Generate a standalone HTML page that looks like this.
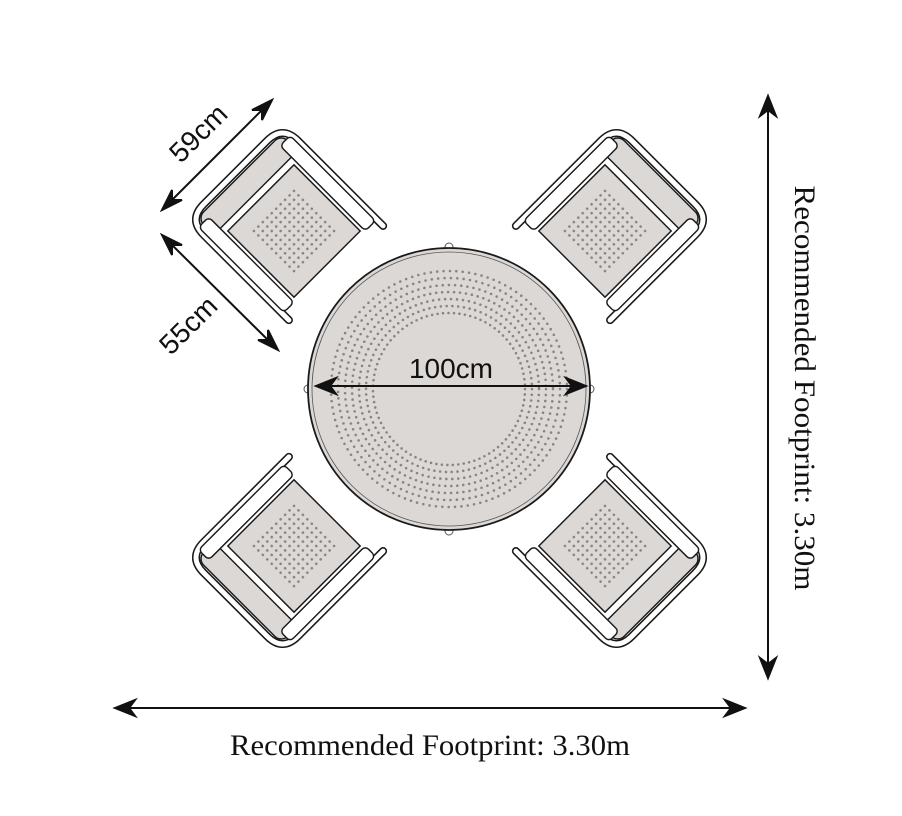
<!DOCTYPE html>
<html><head><meta charset="utf-8"><style>
html,body{margin:0;padding:0;background:#fff}
svg{display:block}
</style></head><body>
<svg width="902" height="816" viewBox="0 0 902 816" xmlns="http://www.w3.org/2000/svg">
<defs>
<pattern id="dots" width="7" height="7" patternUnits="userSpaceOnUse">
<circle cx="3.5" cy="3.5" r="1.5" fill="#8a8584"/>
</pattern>
<g id="chair" stroke="#1a1a1a" stroke-width="1.6" fill="#dcd8d6">
<path d="M-74,66 L-74,-68 Q-74,-92 -50,-92 L50,-92 Q74,-92 74,-68 L74,66" fill="none" stroke="#1a1a1a" stroke-width="9" stroke-linecap="round"/>
<path d="M-74,66 L-74,-68 Q-74,-92 -50,-92 L50,-92 Q74,-92 74,-68 L74,66" fill="none" stroke="#fff" stroke-width="5.5" stroke-linecap="round"/>
<rect x="-66" y="-86" width="132" height="26" rx="10" fill="#dcd8d6"/>
<rect x="56" y="-78" width="16" height="134" rx="5" fill="#fff"/>
<rect x="-72" y="-78" width="16" height="134" rx="5" fill="#fff"/>
<rect x="-52" y="-52" width="104" height="104" fill="#dcd8d6"/>
<rect x="-33" y="-33" width="66" height="66" fill="url(#dots)" stroke="none"/>
</g>
</defs>

<use href="#chair" transform="translate(294,231) rotate(-45) scale(0.9)"/>
<use href="#chair" transform="translate(605,231) rotate(45) scale(0.9)"/>
<use href="#chair" transform="translate(294,546) rotate(-135) scale(0.9)"/>
<use href="#chair" transform="translate(605,546) rotate(135) scale(0.9)"/>

<circle cx="449" cy="247" r="4" fill="#fff" stroke="#555" stroke-width="1"/>
<circle cx="449" cy="531" r="4" fill="#fff" stroke="#555" stroke-width="1"/>
<circle cx="308" cy="389" r="4" fill="#fff" stroke="#555" stroke-width="1"/>
<circle cx="590" cy="389" r="4" fill="#fff" stroke="#555" stroke-width="1"/>
<circle cx="449" cy="389" r="141" fill="#dcd8d6" stroke="#1a1a1a" stroke-width="1.8"/>
<circle cx="449" cy="389" r="137" fill="none" stroke="#555" stroke-width="0.8"/>
<g fill="none" stroke="#8a8584" stroke-width="2.6" stroke-linecap="round">
<circle cx="449" cy="389" r="76" stroke-dasharray="0 5.5"/>
<circle cx="449" cy="389" r="83" stroke-dasharray="0 5.8"/>
<circle cx="449" cy="389" r="90" stroke-dasharray="0 6"/>
<circle cx="449" cy="389" r="97" stroke-dasharray="0 6"/>
<circle cx="449" cy="389" r="104" stroke-dasharray="0 6.2"/>
<circle cx="449" cy="389" r="111" stroke-dasharray="0 6.4"/>
<circle cx="449" cy="389" r="118" stroke-dasharray="0 6.4"/>
</g>

<g stroke="#111" stroke-width="2" fill="#111">
<line x1="326" y1="386" x2="574" y2="386"/>
<polygon points="316,386 336,378 330,386 336,394"/>
<polygon points="586,386 566,378 572,386 566,394"/>
<line x1="265" y1="107" x2="169" y2="203"/>
<polygon points="272,100 262,120 262,110 252,110"/>
<polygon points="162,210 172,190 172,200 182,200"/>
<line x1="169" y1="242" x2="271" y2="343"/>
<polygon points="162,235 182,245 172,245 172,255"/>
<polygon points="278,350 258,340 268,340 268,330"/>
<line x1="768" y1="106" x2="768" y2="668"/>
<polygon points="768,96 760,116 768,110 776,116"/>
<polygon points="768,678 760,658 768,664 776,658"/>
<line x1="125" y1="708" x2="735" y2="708"/>
<polygon points="115,708 135,700 129,708 135,716"/>
<polygon points="745,708 725,700 731,708 725,716"/>
</g>

<g font-family="Liberation Sans, sans-serif" fill="#111" font-size="28">
<text x="451" y="378" text-anchor="middle">100cm</text>
<text x="0" y="0" text-anchor="middle" transform="translate(205,140) rotate(-45)">59cm</text>
<text x="0" y="0" text-anchor="middle" transform="translate(195,332) rotate(-45)">55cm</text>
</g>
<g font-family="Liberation Serif, serif" fill="#111" font-size="30">
<text x="430" y="755" text-anchor="middle" textLength="400" lengthAdjust="spacingAndGlyphs">Recommended Footprint: 3.30m</text>
<text x="0" y="0" text-anchor="middle" transform="translate(795,388) rotate(90)" textLength="405" lengthAdjust="spacingAndGlyphs">Recommended Footprint: 3.30m</text>
</g>
</svg>
</body></html>
